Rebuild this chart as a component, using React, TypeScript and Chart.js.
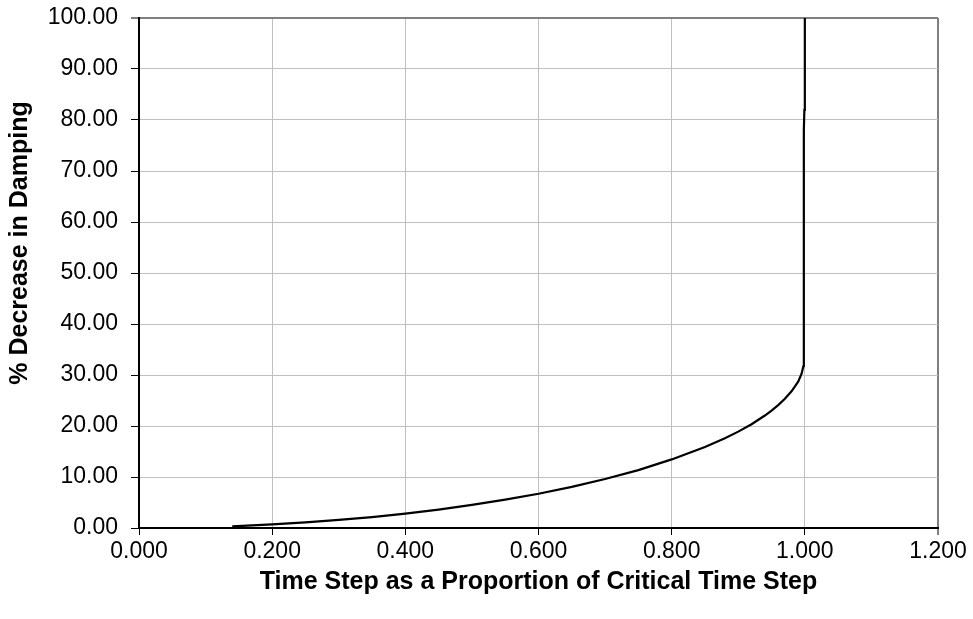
import React, { useEffect, useRef } from "react";
import { Chart, registerables } from "chart.js";

Chart.register(...registerables);

// Time step as a proportion of critical time step
const xValues: number[] = [
  0.14, 0.2, 0.25, 0.3, 0.35, 0.4, 0.45, 0.5, 0.55, 0.6, 0.65, 0.7, 0.75,
  0.8, 0.85, 0.88, 0.9, 0.92, 0.94, 0.95, 0.96, 0.97, 0.98, 0.99, 0.995,
  0.998, 0.9985, 0.9985, 0.9993, 1.0, 1.0,
];
// % decrease in damping
const yValues: number[] = [
  0.33, 0.72, 1.1, 1.58, 2.15, 2.82, 3.6, 4.52, 5.55, 6.72, 8.05, 9.6,
  11.35, 13.45, 15.9, 17.6, 18.9, 20.35, 22.05, 23.0, 24.1, 25.35, 26.8,
  28.7, 30.2, 31.8, 33.3, 78.0, 82.0, 85.0, 100.0,
];

const xTitle = "Time Step as a Proportion of Critical Time Step";
const yTitle = "% Decrease in Damping";
const xMin = 0, xMax = 1.2, xStep = 0.2;
const yMin = 0, yMax = 100, yStep = 10;

const FONT = "'Liberation Sans', Arial, Helvetica, sans-serif";

const yTitlePlugin = {
  id: "yTitlePlugin",
  afterDraw(chart: any) {
    const ctx = chart.ctx;
    ctx.save();
    ctx.translate(20, 243);
    ctx.rotate(-Math.PI / 2);
    ctx.fillStyle = "#000";
    ctx.font = `bold 25px ${FONT}`;
    ctx.textAlign = "center";
    ctx.textBaseline = "middle";
    ctx.fillText(yTitle, 0, 0);
    ctx.restore();
  },
};

export default function App() {
  const ref = useRef<HTMLCanvasElement | null>(null);

  useEffect(() => {
    if (!ref.current) return;
    const points = xValues.map((x, i) => ({ x, y: yValues[i] }));
    const chart = new Chart(ref.current, {
      type: "line",
      data: {
        datasets: [
          {
            data: points,
            borderColor: "#000000",
            borderWidth: 2.2,
            pointRadius: 0,
            fill: false,
            tension: 0,
          },
        ],
      },
      plugins: [yTitlePlugin],
      options: {
        animation: false,
        responsive: true,
        maintainAspectRatio: false,
        layout: { padding: { top: 18, right: 35, left: 0, bottom: 0 } },
        plugins: { legend: { display: false }, tooltip: { enabled: false } },
        scales: {
          x: {
            type: "linear",
            min: xMin,
            max: xMax,
            afterFit: (s: any) => {
              s.height = 91;
              s.paddingLeft = 0;
              s.paddingRight = 0;
            },
            ticks: {
              stepSize: xStep,
              color: "#000",
              padding: 3,
              maxRotation: 0,
              font: { family: FONT, size: 23 },
              callback: (v: any) => Number(v).toFixed(3),
            },
            grid: {
              color: (c: any) =>
                c.tick && Math.abs(c.tick.value - xMax) < 1e-9 ? "#808080" : "#c0c0c0",
              lineWidth: (c: any) =>
                c.tick && Math.abs(c.tick.value - xMax) < 1e-9 ? 2 : 1,
              tickColor: "#000",
              tickLength: 7,
              tickWidth: 1,
            },
            border: { color: "#000", width: 2 },
            title: {
              display: true,
              text: xTitle,
              color: "#000",
              font: { family: FONT, size: 25, weight: "bold" },
              padding: { top: 0, bottom: 22 },
            },
          },
          y: {
            type: "linear",
            min: yMin,
            max: yMax,
            afterFit: (s: any) => {
              s.width = 139;
              s.paddingTop = 0;
              s.paddingBottom = 0;
            },
            ticks: {
              stepSize: yStep,
              color: "#000",
              padding: 13,
              font: { family: FONT, size: 23 },
              callback: (v: any) => Number(v).toFixed(2),
            },
            grid: {
              color: (c: any) =>
                c.tick && Math.abs(c.tick.value - yMax) < 1e-9 ? "#808080" : "#c0c0c0",
              lineWidth: (c: any) =>
                c.tick && Math.abs(c.tick.value - yMax) < 1e-9 ? 2 : 1,
              tickColor: "#000",
              tickLength: 8,
              tickWidth: 1,
            },
            border: { color: "#000", width: 2 },
            title: { display: false },
          },
        },
      },
    });
    return () => chart.destroy();
  }, []);

  return (
    <div
      style={{
        position: "fixed",
        left: 0,
        top: 0,
        width: 973,
        height: 619,
        background: "#fff",
      }}
    >
      <canvas ref={ref} />
    </div>
  );
}
